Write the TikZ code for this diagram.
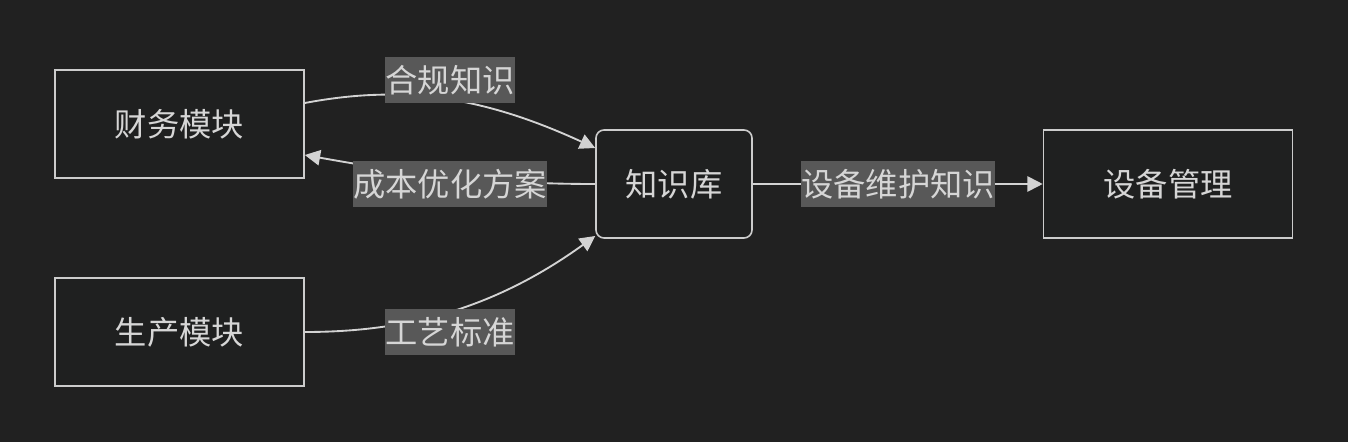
\documentclass[tikz,border=0pt]{standalone}
\usepackage{fontspec}
\newfontfamily\cjk{Noto Sans CJK SC}
\usetikzlibrary{arrows.meta,calc}

\definecolor{sfondo}{HTML}{212121}
\definecolor{riempi}{HTML}{1F2020}
\definecolor{bordo}{HTML}{CCCCCC}
\definecolor{testo}{HTML}{D6D6D6}
\definecolor{grigio}{HTML}{585858}
\definecolor{freccia}{HTML}{D3D3D3}

\begin{document}
\begin{tikzpicture}[
    x=0.75pt, y=-0.75pt,
    font=\cjk\fontsize{24.2}{28}\selectfont,
    modulo/.style={draw=bordo, fill=riempi, line width=1.2pt, text=testo,
      minimum width=186.75pt, minimum height=81pt, inner sep=0pt},
    archivio/.style={modulo, minimum width=117pt, rounded corners=6pt},
    etic/.style={fill=grigio, text=testo, inner sep=0pt, minimum height=35pt},
    arco/.style={draw=freccia, line width=1.4pt,
      -{Triangle[length=11.5pt,width=11.5pt]}},
  ]

  % ---- sfondo e margini ------------------------------------------------------
  \fill[sfondo] (0,0) rectangle (1348,442);
  \useasboundingbox (0,0) rectangle (1348,442);

  % ---- i blocchi -------------------------------------------------------------
  \node[modulo]   (fin)  at (179.5,124) {财务模块};
  \node[modulo]   (prod) at (179.5,332) {生产模块};
  \node[archivio] (kb)   at (674,184)   {知识库};
  \node[modulo]   (dev)  at (1168,184)  {设备管理};

  % ---- i collegamenti --------------------------------------------------------
  \draw[arco] ($(fin.east)+(0,-21)$)
    .. controls (400,85) and (480,95) .. ($(kb.west)+(0,-36)$);
  \draw[arco] (kb.west)
    .. controls (480,184) and (400,172) .. ($(fin.east)+(0,31)$);
  \draw[arco] (prod.east)
    .. controls (400,332) and (490,312) .. ($(kb.west)+(0,52)$);
  \draw[arco] (kb.east) -- (dev.west);

  % ---- le etichette sugli archi ----------------------------------------------
  \node[etic] (l1) at (450,80)  {合规知识};
  \node[etic] (l2) at (450,184) {成本优化方案};
  \node[etic] (l3) at (450,332) {工艺标准};
  \node[etic] (l4) at (898,184) {设备维护知识};

\end{tikzpicture}
\end{document}
